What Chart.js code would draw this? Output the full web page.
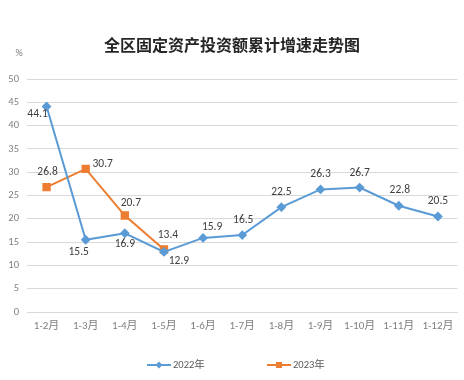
<!DOCTYPE html>
<html><head><meta charset="utf-8">
<script src="https://cdn.jsdelivr.net/npm/chart.js@4/dist/chart.umd.min.js"></script>
<style>html,body{margin:0;padding:0;background:#fff}#wrap{width:464px;height:380px}</style>
</head><body><div id="wrap"><canvas id="c" width="464" height="380"></canvas></div>
<script>
const categories = ['1-2月','1-3月','1-4月','1-5月','1-6月','1-7月','1-8月','1-9月','1-10月','1-11月','1-12月'];
const values2022 = [44.1,15.5,16.9,12.9,15.9,16.5,22.5,26.3,26.7,22.8,20.5];
const values2023 = [26.8,30.7,20.7,13.4,null,null,null,null,null,null,null];
const seriesNames = ['2022年','2023年'];
const titleText = '全区固定资产投资额累计增速走势图';
const unitText = '%';
const yTicks = [0,5,10,15,20,25,30,35,40,45,50];

const BLUE = '#5b9bd5', ORANGE = '#ed7d31';
const FONT = '"Microsoft YaHei","Noto Sans CJK SC","DejaVu Sans",sans-serif';
const LFONT = 'Calibri,"Liberation Sans","Noto Sans CJK SC",sans-serif';
// label offsets [dx,dy] per point, relative to point
const off2022 = [[-9,8],[-7,12],[0,11],[15,9],[9,-11],[1,-15],[0,-15],[0,-15],[0,-14],[1,-16],[0,-15]];
const off2023 = [[1,-15],[17,-5],[6,-12],[4,-14]];

const overlay = {
  id:'overlay',
  afterDatasetsDraw(chart){
    const ctx = chart.ctx;
    ctx.save();
    ctx.textAlign='center'; ctx.textBaseline='middle';
    ctx.fillStyle='#404040';
    ctx.font='11.5px '+LFONT;
    const draw=(di,offs)=>{
      const meta=chart.getDatasetMeta(di);
      const data=chart.data.datasets[di].data;
      meta.data.forEach((el,i)=>{
        if(data[i]==null) return;
        const o=offs[i]||[0,-14];
        ctx.fillText(data[i].toFixed(1), el.x+o[0], el.y+o[1]);
      });
    };
    draw(0,off2022); draw(1,off2023);
    // title
    ctx.fillStyle='#262626';
    ctx.font='bold 16px '+FONT;
    ctx.fillText(titleText, 232, 45);
    // unit
    ctx.fillStyle='#7f7f7f';
    ctx.font='10px '+LFONT;
    ctx.fillText(unitText, 19, 53);
    // legend
    const items=[[147,BLUE,'rectRot',seriesNames[0]],[267,ORANGE,'rect',seriesNames[1]]];
    const ly=365;
    items.forEach(([x,col,shape,txt])=>{
      ctx.strokeStyle=col; ctx.lineWidth=2;
      ctx.beginPath(); ctx.moveTo(x,ly); ctx.lineTo(x+24,ly); ctx.stroke();
      ctx.fillStyle=col;
      if(shape==='rect'){ ctx.fillRect(x+12-3,ly-3,6,6);} else {
        ctx.beginPath(); ctx.moveTo(x+12,ly-3.5); ctx.lineTo(x+15.5,ly); ctx.lineTo(x+12,ly+3.5); ctx.lineTo(x+8.5,ly); ctx.closePath(); ctx.fill();
      }
      ctx.fillStyle='#595959'; ctx.textAlign='left';
      ctx.font='10.5px '+LFONT;
      ctx.fillText(txt, x+26, ly);
    });
    ctx.restore();
  }
};

new Chart(document.getElementById('c'),{
  type:'line',
  data:{labels:categories,datasets:[
    {label:seriesNames[0],data:values2022,borderColor:BLUE,backgroundColor:BLUE,borderWidth:2,pointStyle:'rectRot',pointRadius:3.5,pointHoverRadius:3.5,tension:0},
    {label:seriesNames[1],data:values2023,borderColor:ORANGE,backgroundColor:ORANGE,borderWidth:2,pointStyle:'rect',pointRadius:4.5,pointHoverRadius:4.5,tension:0,spanGaps:false}
  ]},
  options:{
    responsive:false,animation:false,
    layout:{padding:{top:79,right:3,left:0,bottom:0}},
    plugins:{legend:{display:false},title:{display:false},tooltip:{enabled:false}},
    scales:{
      x:{offset:true,grid:{display:false,drawTicks:false},border:{display:true,color:'#d9d9d9'},
        ticks:{padding:8,color:'#7f7f7f',font:{size:11,family:LFONT},maxRotation:0,autoSkip:false},
        afterFit(s){s.height=68;}},
      y:{min:0,max:50,grid:{color:'#d9d9d9',drawTicks:false},border:{display:false},
        afterBuildTicks(s){s.ticks=yTicks.map(v=>({value:v}));},
        ticks:{padding:8,color:'#7f7f7f',font:{size:10.5,family:LFONT}},
        afterFit(s){s.width=27;}}
    }
  },
  plugins:[overlay]
});
</script></body></html>
